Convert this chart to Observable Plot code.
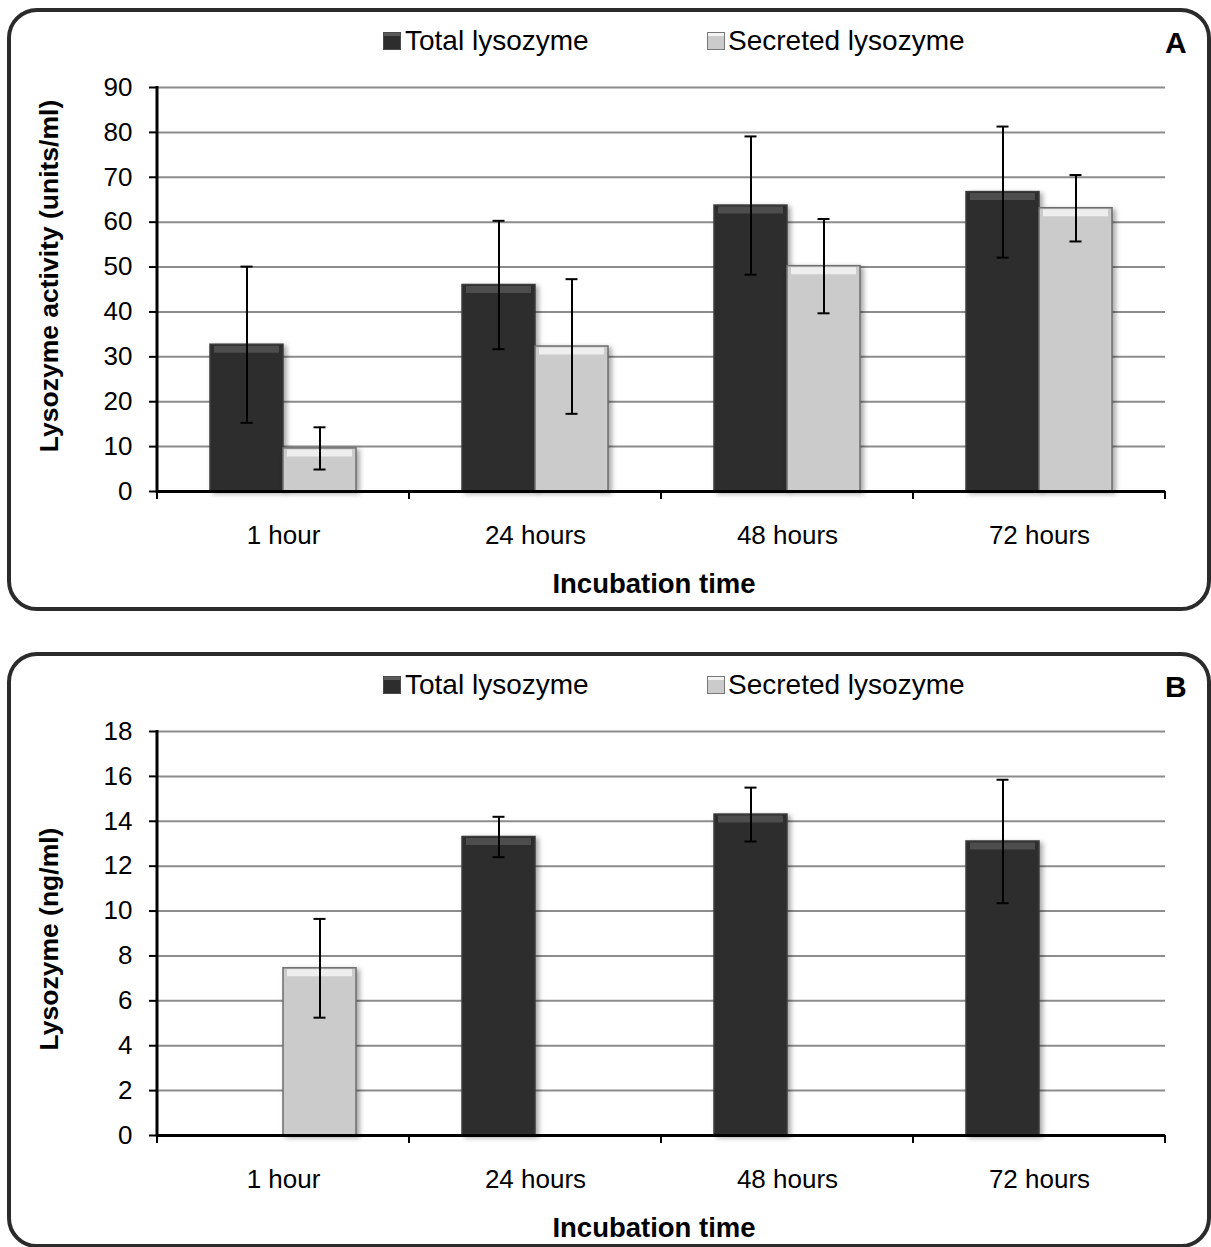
<!DOCTYPE html>
<html>
<head>
<meta charset="utf-8">
<script src="https://cdn.jsdelivr.net/npm/d3@7"></script>
<script src="https://cdn.jsdelivr.net/npm/@observablehq/plot@0.6"></script>
<style>
  html, body { margin: 0; padding: 0; background: #fff; }
  body { position: relative; width: 1211px; height: 1247px; overflow: hidden;
         font-family: "Liberation Sans", Arial, Helvetica, sans-serif; color: #000; }
  .panel { position: absolute; left: 7px; width: 1204px; box-sizing: border-box;
           border: 4.5px solid #2b2b2b; border-radius: 30px; }
  .abs { position: absolute; white-space: nowrap; }
  .legtext { font-size: 28px; line-height: 30px; }
  .sq { position: absolute; width: 18px; height: 18px; box-sizing: border-box; }
  .sq.total { background: #2d2d2d; border: 1px solid #4a4a4a; box-shadow: inset 0 3px 0 #5a5a5a; }
  .sq.secreted { background: #cbcbcb; border: 1px solid #777; box-shadow: inset 0 3px 0 #f4f4f4; }
  .letter { font-size: 30px; font-weight: bold; line-height: 34px; }
  .title { font-size: 27.5px; font-weight: bold; line-height: 30px; transform: translate(-50%, -50%); }
  .ytitle { font-size: 26.5px; font-weight: bold; line-height: 30px; transform: translate(-50%, -50%) rotate(-90deg); }
  .chart { position: absolute; left: 0; }
</style>
</head>
<body>
<script>
// ---------- data ----------
const categories = ["1 hour", "24 hours", "48 hours", "72 hours"];
const seriesNames = ["Total lysozyme", "Secreted lysozyme"];

// Panel A: lysozyme activity (units/ml)
const activityTotal = [32.7, 46.0, 63.7, 66.7];
const activityTotalErr = [17.4, 14.3, 15.4, 14.6];
const activitySecreted = [9.6, 32.3, 50.2, 63.1];
const activitySecretedErr = [4.7, 15.0, 10.5, 7.4];
const activityTicks = [0, 10, 20, 30, 40, 50, 60, 70, 80, 90];

// Panel B: lysozyme (ng/ml)
const massTotal = [null, 13.3, 14.3, 13.1];
const massTotalErr = [null, 0.9, 1.2, 2.75];
const massSecreted = [7.45, null, null, null];
const massSecretedErr = [2.2, null, null, null];
const massTicks = [0, 2, 4, 6, 8, 10, 12, 14, 16, 18];

const panels = [
  { letter: "A", offset: 0, height: 603, yLabel: "Lysozyme activity (units/ml)", yLabelCenter: 276,
    total: activityTotal, totalErr: activityTotalErr, secreted: activitySecreted, secretedErr: activitySecretedErr,
    ticks: activityTicks },
  { letter: "B", offset: 644, height: 596, yLabel: "Lysozyme (ng/ml)", yLabelCenter: 295,
    total: massTotal, totalErr: massTotalErr, secreted: massSecreted, secretedErr: massSecretedErr,
    ticks: massTicks }
];

const fillOf = {"Total lysozyme": "#2d2d2d", "Secreted lysozyme": "#cbcbcb"};
const strokeOf = {"Total lysozyme": "#3c3c3c", "Secreted lysozyme": "#6e6e6e"};
const bevelOf = {"Total lysozyme": "#4d4d4d", "Secreted lysozyme": "#eeeeee"};

function el(tag, cls, style, text) {
  const e = document.createElement(tag);
  if (cls) e.className = cls;
  Object.assign(e.style, style || {});
  if (text != null) e.textContent = text;
  document.body.appendChild(e);
  return e;
}

for (const p of panels) {
  const off = p.offset;
  // frame
  el("div", "panel", {top: (8 + off) + "px", height: p.height + "px"});
  // legend
  el("div", "sq total", {left: "383px", top: (32 + off) + "px"});
  el("div", "abs legtext", {left: "405px", top: (26 + off) + "px"}, seriesNames[0]);
  el("div", "sq secreted", {left: "707px", top: (32 + off) + "px"});
  el("div", "abs legtext", {left: "728px", top: (26 + off) + "px"}, seriesNames[1]);
  // panel letter
  el("div", "abs letter", {left: "1165px", top: (26 + off) + "px"}, p.letter);
  // axis titles
  el("div", "abs ytitle", {left: "49px", top: (p.yLabelCenter + off) + "px"}, p.yLabel);
  el("div", "abs title", {left: "654px", top: (584 + off) + "px"}, "Incubation time");

  // data table
  const data = [];
  categories.forEach((c, i) => {
    if (p.total[i] != null) data.push({cat: c, series: seriesNames[0], value: p.total[i], err: p.totalErr[i]});
    if (p.secreted[i] != null) data.push({cat: c, series: seriesNames[1], value: p.secreted[i], err: p.secretedErr[i]});
  });
  const yMax = p.ticks[p.ticks.length - 1];

  const chart = Plot.plot({
    width: 1211,
    height: 530,
    marginLeft: 157,
    marginRight: 46,
    marginTop: 17,
    marginBottom: 109,
    style: {fontSize: "26px", fontFamily: "\"Liberation Sans\", Arial, sans-serif", color: "#000", background: "transparent", overflow: "visible"},
    fx: {domain: categories, padding: 0, label: null, axis: null},
    x: {domain: seriesNames, paddingInner: 0, paddingOuter: 0.714, axis: null, label: null},
    y: {domain: [0, yMax], axis: null, label: null},
    marks: [
      Plot.gridY(p.ticks, {stroke: "#8c8c8c", strokeOpacity: 1, strokeWidth: 2}),
      Plot.axisY(p.ticks, {anchor: "left", tickSize: 8, tickPadding: 17, strokeWidth: 2, stroke: "#000", label: null}),
      Plot.axisFx({anchor: "bottom", tickSize: 0, tickPadding: 34, label: null}),
      Plot.barY(data, {fx: "cat", x: "series", y: "value",
        fill: d => fillOf[d.series], stroke: d => strokeOf[d.series], strokeWidth: 1.5}),
      Plot.tickY(data, {fx: "cat", x: "series", y: "value", stroke: d => bevelOf[d.series],
        strokeWidth: 7, dy: 4.5, insetLeft: 4, insetRight: 4}),
      Plot.ruleX(data, {fx: "cat", x: "series", y1: d => d.value - d.err, y2: d => d.value + d.err,
        stroke: "#000", strokeWidth: 2}),
      Plot.tickY(data, {fx: "cat", x: "series", y: d => d.value - d.err, stroke: "#000", strokeWidth: 2,
        insetLeft: 30.5, insetRight: 30.5}),
      Plot.tickY(data, {fx: "cat", x: "series", y: d => d.value + d.err, stroke: "#000", strokeWidth: 2,
        insetLeft: 30.5, insetRight: 30.5}),
      Plot.ruleY([0], {stroke: "#000", strokeWidth: 3})
    ]
  });

  chart.classList.add("chart");
  chart.style.top = (70 + off) + "px";
  document.body.appendChild(chart);

  // bar shading and axis line / boundary ticks from the library's scales
  const svg = d3.select(chart);
  svg.selectAll('g[aria-label="bar"] rect').style("filter", "drop-shadow(3px 2px 2.5px rgba(0,0,0,0.35))");
  const fx = chart.scale("fx");
  const ys = chart.scale("y");
  const y0 = ys.apply(0), yTop = ys.apply(yMax);
  const bounds = categories.map(c => fx.apply(c));
  bounds.push(fx.apply(categories[categories.length - 1]) + fx.bandwidth);
  const g = svg.append("g").attr("stroke", "#000");
  g.append("line").attr("x1", bounds[0]).attr("x2", bounds[0]).attr("y1", yTop - 1).attr("y2", y0 + 1.5).attr("stroke-width", 3);
  g.selectAll("line.bt").data(bounds).join("line").attr("class", "bt")
    .attr("x1", d => d).attr("x2", d => d).attr("y1", y0).attr("y2", y0 + 8).attr("stroke-width", 2);
}
</script>
</body>
</html>
